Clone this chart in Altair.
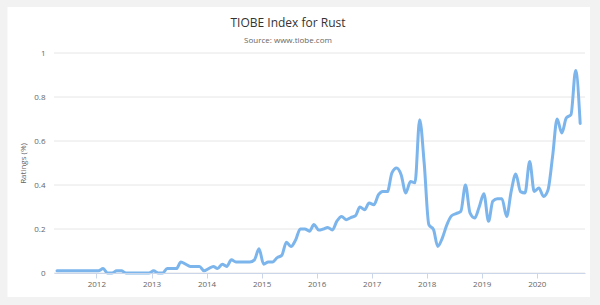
import altair as alt
import pandas as pd

# Monthly TIOBE ratings for Rust (%), April 2011 - October 2020
v2011 = [0.01, 0.01, 0.01, 0.01, 0.01, 0.01, 0.01, 0.01, 0.01]  # Apr-Dec
v2012 = [0.01, 0.02, 0.0, 0.0, 0.01, 0.01, 0.0, 0.0, 0.0, 0.0, 0.0, 0.0]
v2013 = [0.01, 0.0, 0.0, 0.02, 0.02, 0.02, 0.05, 0.04, 0.03, 0.03, 0.03, 0.01]
v2014 = [0.02, 0.03, 0.02, 0.04, 0.03, 0.06, 0.05, 0.05, 0.05, 0.05, 0.06, 0.11]
v2015 = [0.04, 0.05, 0.05, 0.07, 0.08, 0.14, 0.12, 0.15, 0.20, 0.20, 0.19, 0.22]
v2016 = [0.195, 0.20, 0.207, 0.196, 0.236, 0.257, 0.242, 0.252, 0.26, 0.30, 0.288, 0.318]
v2017 = [0.31, 0.356, 0.371, 0.37, 0.455, 0.477, 0.447, 0.364, 0.416, 0.41, 0.697, 0.50]
v2018 = [0.22, 0.197, 0.121, 0.16, 0.22, 0.26, 0.27, 0.28, 0.40, 0.273, 0.25, 0.30]
v2019 = [0.36, 0.235, 0.326, 0.338, 0.338, 0.257, 0.37, 0.45, 0.37, 0.364, 0.507, 0.371]
v2020 = [0.386, 0.348, 0.376, 0.53, 0.70, 0.636, 0.705, 0.72, 0.92, 0.68]  # Jan-Oct

y_ticks = [0, 0.2, 0.4, 0.6, 0.8, 1]
x_domain = ["2011-03-26", "2020-11-16"]
title_text = "TIOBE Index for Rust"
subtitle_text = "Source: www.tiobe.com"

values = v2011 + v2012 + v2013 + v2014 + v2015 + v2016 + v2017 + v2018 + v2019 + v2020
dates = pd.date_range("2011-04-01", periods=len(values), freq="MS") + pd.Timedelta(days=14)
df = pd.DataFrame({"date": dates.strftime("%Y-%m-%d"), "rating": values})

FONT = "Open Sans"

y_axis = alt.Axis(title="Ratings (%)", values=y_ticks, format="~g", grid=False,
                  domain=False, ticks=False, tickSize=0, labelPadding=9,
                  labelColor="#666666", labelFont=FONT, labelFontSize=8,
                  titleColor="#666666", titleFont=FONT, titleFontSize=8,
                  titleFontWeight="normal", titleX=-31, titleY=110,
                  titleAngle=270, titleAlign="center", titleBaseline="middle",
                  zindex=1)
y_scale = alt.Scale(domain=[0, 1])

card = alt.Chart(alt.Data(values=[{}])).mark_rect(fill="white").encode(
    x=alt.value(-46.5), x2=alt.value(536), y=alt.value(-46), y2=alt.value(244)
)

titles = alt.Chart(alt.Data(values=[{}])).mark_text(
    font=FONT, fontSize=12, color="#333333", align="center", baseline="middle", text=title_text
).encode(x=alt.value(234), y=alt.value(-30.5))

subtitle = alt.Chart(alt.Data(values=[{}])).mark_text(
    font=FONT, fontSize=8, color="#666666", align="center", baseline="middle", text=subtitle_text
).encode(x=alt.value(234), y=alt.value(-12.5))

grid = alt.Chart(pd.DataFrame({"t": y_ticks})).mark_rule(color="#e6e6e6", strokeWidth=1).encode(
    y=alt.Y("t:Q", scale=y_scale, axis=y_axis),
    x=alt.value(0), x2=alt.value(531),
)

line = alt.Chart(df).mark_line(
    interpolate="monotone", color="#7cb5ec", strokeWidth=3, strokeCap="round", strokeJoin="round"
).encode(
    x=alt.X("date:T", scale=alt.Scale(domain=x_domain),
            axis=alt.Axis(title=None, format="%Y", tickCount={"interval": "year", "step": 1},
                          domainColor="#ccd6eb", tickColor="#ccd6eb", tickSize=5,
                          labelColor="#666666", labelFont=FONT, labelFontSize=8,
                          labelPadding=2, grid=False, zindex=1)),
    y=alt.Y("rating:Q", scale=y_scale, axis=y_axis),
)

chart = alt.layer(card, titles, subtitle, grid, line).properties(
    width=531, height=220,
    padding={"left": 54, "top": 53, "right": 15, "bottom": 32},
    autosize=alt.AutoSizeParams(type="none"),
    background="#f2f2f2",
).configure_view(stroke=None)

chart.save("out.html", embed_options={"renderer": "svg", "actions": False})
